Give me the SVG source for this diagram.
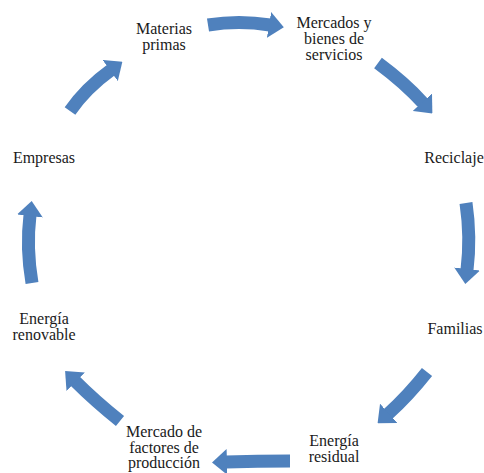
<svg xmlns="http://www.w3.org/2000/svg" width="484" height="473" viewBox="0 0 484 473">
  <style>
    .lbl { font-family: "Liberation Serif", "Times New Roman", serif; font-size: 16px; fill: #1a1a1a; text-anchor: middle; }
    .arr { fill: none; stroke: #4F81BD; stroke-width: 13; stroke-linecap: butt; marker-end: url(#head); }
  </style>
  <defs>
    <marker id="head" markerUnits="userSpaceOnUse" markerWidth="15" markerHeight="26" viewBox="0 0 15 26" refX="1" refY="13" orient="auto">
      <path d="M0,0 L15,13 L0,26 Z" fill="#4F81BD"/>
    </marker>
  </defs>
  <rect width="484" height="473" fill="#ffffff"/>

  <g id="connectors">
    <path class="arr" d="M208,25 Q239,20 270,25"/>
    <path class="arr" d="M378,63 Q405,83 423,103"/>
    <path class="arr" d="M466,203 Q471,237 467,270"/>
    <path class="arr" d="M427,372 Q408,396 388,414"/>
    <path class="arr" d="M290,461 Q257,461 226,462"/>
    <path class="arr" d="M120,421 Q95,401 75,381"/>
    <path class="arr" d="M32,283 Q26,248 30,215"/>
    <path class="arr" d="M70,111 Q86,88 111,70"/>
  </g>

  <g id="materias-primas">
    <text class="lbl" x="164" y="34">Materias</text>
    <text class="lbl" x="164" y="50">primas</text>
  </g>
  <g id="mercados-bienes">
    <text class="lbl" x="334" y="28">Mercados y</text>
    <text class="lbl" x="334" y="44">bienes de</text>
    <text class="lbl" x="334" y="60">servicios</text>
  </g>
  <g id="reciclaje">
    <text class="lbl" x="454" y="163">Reciclaje</text>
  </g>
  <g id="familias">
    <text class="lbl" x="455" y="334">Familias</text>
  </g>
  <g id="energia-residual">
    <text class="lbl" x="334" y="446">Energía</text>
    <text class="lbl" x="334" y="462">residual</text>
  </g>
  <g id="mercado-factores">
    <text class="lbl" x="164" y="437">Mercado de</text>
    <text class="lbl" x="164" y="452.5">factores de</text>
    <text class="lbl" x="164" y="468">producción</text>
  </g>
  <g id="energia-renovable">
    <text class="lbl" x="44" y="324">Energía</text>
    <text class="lbl" x="44" y="340">renovable</text>
  </g>
  <g id="empresas">
    <text class="lbl" x="44" y="163">Empresas</text>
  </g>
</svg>
